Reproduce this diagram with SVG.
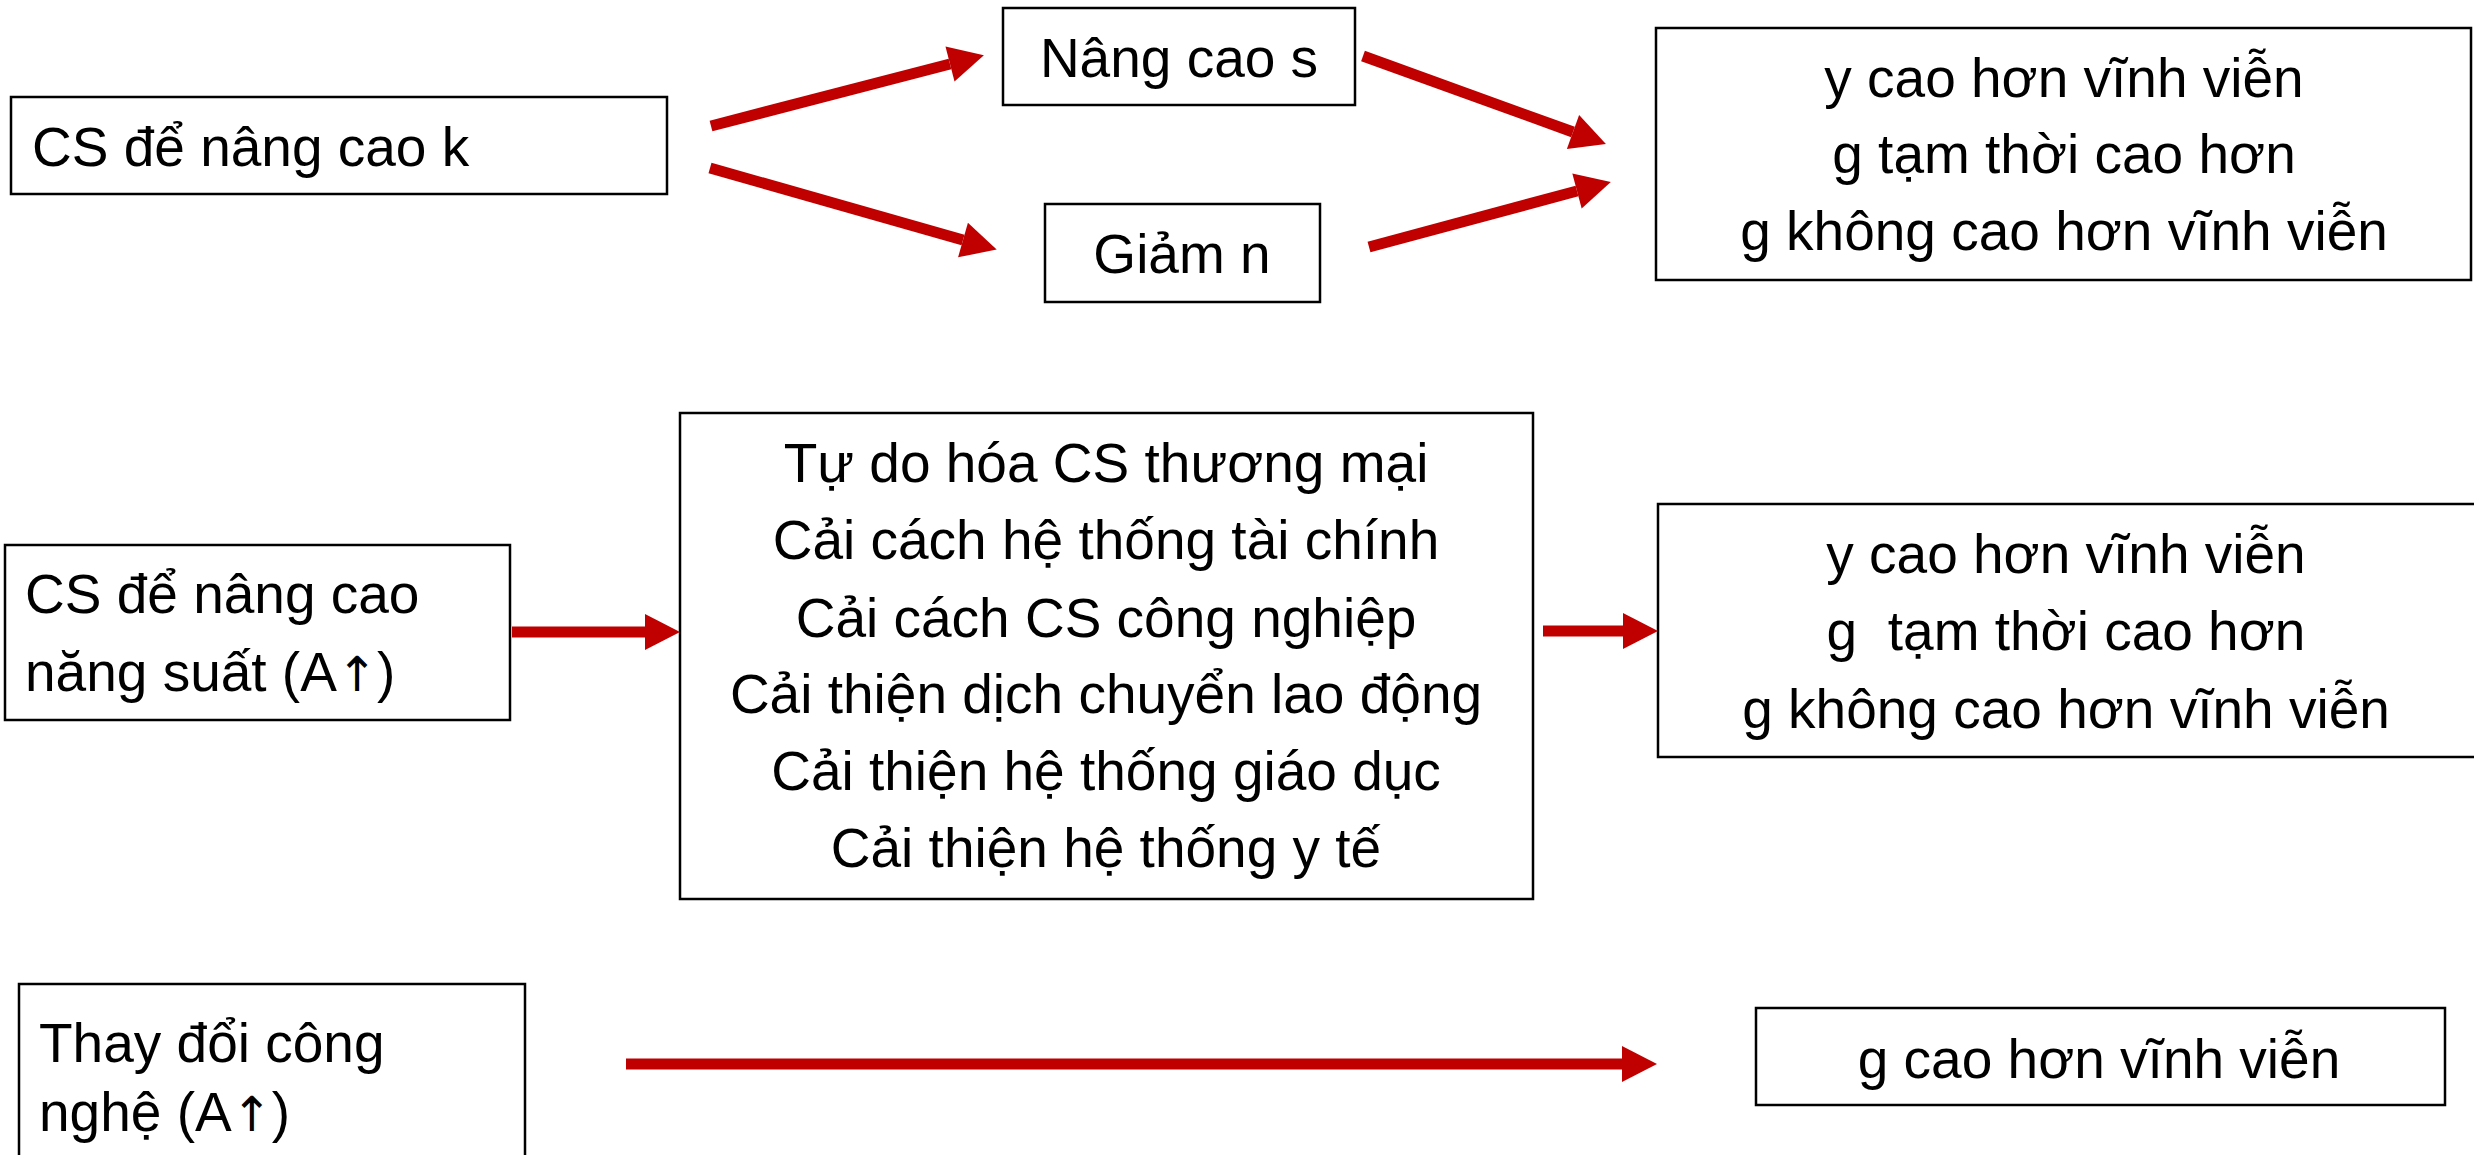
<svg xmlns="http://www.w3.org/2000/svg" width="2474" height="1155" viewBox="0 0 2474 1155">
<style>
.box{fill:#fff;stroke:#000;stroke-width:2.5}
.t{font-family:"Liberation Sans",Arial,sans-serif;font-size:55px;fill:#000}
.c{text-anchor:middle}
.up{font-family:"DejaVu Sans",sans-serif;font-size:48px}
.arr{stroke:#C00000;stroke-width:11;fill:none;marker-end:url(#ah)}
</style>
<defs>
<marker id="ah" markerUnits="userSpaceOnUse" markerWidth="36" markerHeight="36" refX="0" refY="18" orient="auto" overflow="visible">
<path d="M0,0 L35,18 L0,36 z" fill="#C00000"/>
</marker>
</defs>
<rect width="2474" height="1155" fill="#fff"/>
<g id="n1"><rect class="box" x="11" y="97" width="656" height="97"/><text class="t" x="32" y="166">CS để nâng cao k</text></g>
<g id="n2"><rect class="box" x="1003" y="8" width="352" height="97"/><text class="t c" x="1179" y="77">Nâng cao s</text></g>
<g id="n3"><rect class="box" x="1045" y="204" width="275" height="98"/><text class="t c" x="1182" y="273">Giảm n</text></g>
<g id="n4"><rect class="box" x="1656" y="28" width="815" height="252"/>
<text class="t c" x="2064" y="97">y cao hơn vĩnh viễn</text>
<text class="t c" x="2064" y="173">g tạm thời cao hơn</text>
<text class="t c" x="2064" y="250">g không cao hơn vĩnh viễn</text></g>
<g id="n5"><rect class="box" x="5" y="545" width="505" height="175"/>
<text class="t" x="25" y="613">CS để nâng cao</text>
<text class="t" x="25" y="691">năng suất (A<tspan class="up">↑</tspan>)</text></g>
<g id="n6"><rect class="box" x="680" y="413" width="853" height="486"/>
<text class="t c" x="1106" y="482">Tự do hóa CS thương mại</text>
<text class="t c" x="1106" y="559">Cải cách hệ thống tài chính</text>
<text class="t c" x="1106" y="637">Cải cách CS công nghiệp</text>
<text class="t c" x="1106" y="713">Cải thiện dịch chuyển lao động</text>
<text class="t c" x="1106" y="790">Cải thiện hệ thống giáo dục</text>
<text class="t c" x="1106" y="867">Cải thiện hệ thống y tế</text></g>
<g id="n7"><rect class="box" x="1658" y="504" width="830" height="253"/>
<text class="t c" x="2066" y="573">y cao hơn vĩnh viễn</text>
<text class="t c" x="2066" y="650" xml:space="preserve">g  tạm thời cao hơn</text>
<text class="t c" x="2066" y="728">g không cao hơn vĩnh viễn</text></g>
<g id="n8"><rect class="box" x="19" y="984" width="506" height="200"/>
<text class="t" x="39" y="1062">Thay đổi công</text>
<text class="t" x="39" y="1131">nghệ (A<tspan class="up">↑</tspan>)</text></g>
<g id="n9"><rect class="box" x="1756" y="1008" width="689" height="97"/><text class="t c" x="2099" y="1078">g cao hơn vĩnh viễn</text></g>
<g id="connectors">
<line class="arr" x1="711" y1="126" x2="950" y2="64"/>
<line class="arr" x1="710" y1="168" x2="963" y2="240"/>
<line class="arr" x1="1363" y1="56" x2="1573" y2="132"/>
<line class="arr" x1="1369" y1="247" x2="1577" y2="191"/>
<line class="arr" x1="512" y1="632" x2="645" y2="632"/>
<line class="arr" x1="1543" y1="631" x2="1623" y2="631"/>
<line class="arr" x1="626" y1="1064" x2="1622" y2="1064"/>
</g>
</svg>
